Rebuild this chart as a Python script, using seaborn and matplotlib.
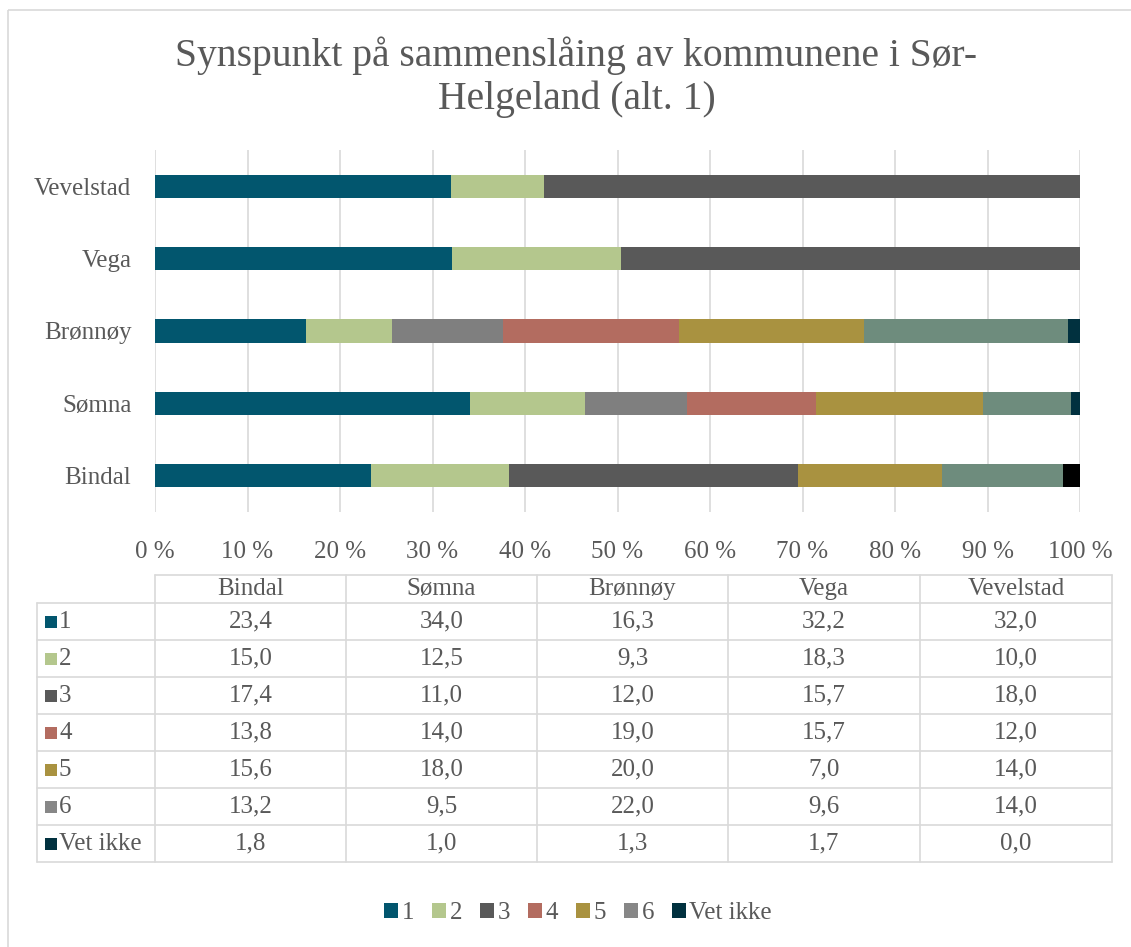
import numpy as np
import pandas as pd
import matplotlib
matplotlib.use("Agg")
import matplotlib.pyplot as plt
import seaborn as sns
from matplotlib.patches import Patch, Rectangle

# --- data -----------------------------------------------------------------
kommuner = ["Bindal", "Sømna", "Brønnøy", "Vega", "Vevelstad"]
svar = ["1", "2", "3", "4", "5", "6", "Vet ikke"]
svar_1 = [23.4, 34.0, 16.3, 32.2, 32.0]
svar_2 = [15.0, 12.5, 9.3, 18.3, 10.0]
svar_3 = [17.4, 11.0, 12.0, 15.7, 18.0]
svar_4 = [13.8, 14.0, 19.0, 15.7, 12.0]
svar_5 = [15.6, 18.0, 20.0, 7.0, 14.0]
svar_6 = [13.2, 9.5, 22.0, 9.6, 14.0]
vet_ikke = [1.8, 1.0, 1.3, 1.7, 0.0]
x_ticks = [0, 10, 20, 30, 40, 50, 60, 70, 80, 90, 100]
title_lines = ["Synspunkt på sammenslåing av kommunene i Sør-", "Helgeland (alt. 1)"]

series = [svar_1, svar_2, svar_3, svar_4, svar_5, svar_6, vet_ikke]

# --- styling --------------------------------------------------------------
TEAL, GREEN, DGRAY, RED, GOLD, GRAY, NAVY = (
    "#02566E", "#B4C78D", "#595959", "#B36C60", "#A99240", "#878787", "#01313F")
MGRAY, SAGE, BLACK = "#7F7F7F", "#6E8C7D", "#000000"
legend_colors = [TEAL, GREEN, DGRAY, RED, GOLD, GRAY, NAVY]
segment_colors = {
    "Bindal":    [TEAL, GREEN, DGRAY, DGRAY, GOLD, SAGE, BLACK],
    "Sømna":     [TEAL, GREEN, MGRAY, RED, GOLD, SAGE, NAVY],
    "Brønnøy":   [TEAL, GREEN, MGRAY, RED, GOLD, SAGE, NAVY],
    "Vega":      [TEAL, GREEN, DGRAY, DGRAY, DGRAY, DGRAY, DGRAY],
    "Vevelstad": [TEAL, GREEN, DGRAY, DGRAY, DGRAY, DGRAY, DGRAY],
}
TXT = "#595959"
LINE = "#D9D9D9"
FONT = ["Liberation Serif", "DejaVu Serif"]
FS = 18

sns.set_theme(style="white")
plt.rcParams["font.family"] = FONT
plt.rcParams["text.color"] = TXT

W, H = 1131, 947
fig = plt.figure(figsize=(W / 100, H / 100), dpi=100)

# --- stacked percentage bars ---------------------------------------------
vals = np.array(series)                      # (7 answers, 5 municipalities)
pct = vals / vals.sum(axis=0) * 100
cum = np.cumsum(pct, axis=0)
bar_order = kommuner[::-1]

ax = fig.add_axes([155 / W, 1 - 512 / H, 925 / W, 362 / H])
for k in range(len(svar) - 1, -1, -1):
    df = pd.DataFrame({"kommune": kommuner, "andel": cum[k]})
    pal = {kom: segment_colors[kom][k] for kom in kommuner}
    sns.barplot(data=df, x="andel", y="kommune", hue="kommune", order=bar_order,
                hue_order=bar_order, palette=pal, saturation=1, width=0.32,
                linewidth=0, legend=False, ax=ax)

ax.set_xlim(0, 100)
ax.set_ylim(len(kommuner) - 0.5, -0.5)
ax.set_xticks(x_ticks)
ax.set_xticklabels([f"{t} %" for t in x_ticks])
ax.set_xlabel("")
ax.set_ylabel("")
ax.xaxis.grid(True, color=LINE, linewidth=1.2)
ax.yaxis.grid(False)
ax.set_axisbelow(True)
for s in ax.spines.values():
    s.set_visible(False)
ax.tick_params(axis="x", length=0, pad=21, labelsize=FS, labelcolor=TXT)
ax.tick_params(axis="y", length=0, pad=17, labelsize=FS, labelcolor=TXT)
for lab in ax.get_xticklabels() + ax.get_yticklabels():
    lab.set_family(FONT)

# --- overlay in pixel space: frame, title, data table, legend -------------
ov = fig.add_axes([0, 0, 1, 1], facecolor="none")
ov.set_xlim(0, W)
ov.set_ylim(H, 0)
ov.axis("off")

ov.add_patch(Rectangle((8, 10), W + 20, H + 20, fill=False, edgecolor=LINE, lw=1.2))

ov.text(576, 66, title_lines[0], ha="center", va="baseline", fontsize=28.5, color=TXT)
ov.text(577, 109, title_lines[1], ha="center", va="baseline", fontsize=28.5, color=TXT)

col_edges = [155, 346, 537, 728, 920, 1112]
head_top, row_top, row_h = 575, 603, 37
n_rows = len(svar)
table_bottom = row_top + n_rows * row_h
lkw = dict(color=LINE, lw=1.2)

ov.plot([col_edges[0], col_edges[-1]], [head_top, head_top], **lkw)
for r in range(n_rows + 1):
    y = row_top + r * row_h
    ov.plot([37, col_edges[-1]], [y, y], **lkw)
ov.plot([37, 37], [row_top, table_bottom], **lkw)
for x in col_edges:
    ov.plot([x, x], [head_top, table_bottom], **lkw)

for j, kom in enumerate(kommuner):
    cx = (col_edges[j] + col_edges[j + 1]) / 2
    ov.text(cx, (head_top + row_top) / 2, kom, ha="center", va="center",
            fontsize=FS, color=TXT)
for i, name in enumerate(svar):
    cy = row_top + (i + 0.5) * row_h
    ov.add_patch(Rectangle((45, cy - 6), 12, 12, color=legend_colors[i], lw=0))
    ov.text(59, cy, name, ha="left", va="center", fontsize=FS, color=TXT)
    for j in range(len(kommuner)):
        cx = (col_edges[j] + col_edges[j + 1]) / 2
        txt = f"{series[i][j]:.1f}".replace(".", ",")
        ov.text(cx, cy, txt, ha="center", va="center", fontsize=FS, color=TXT)

handles = [Patch(facecolor=c, edgecolor="none", label=s) for s, c in zip(svar, legend_colors)]
leg = ov.legend(handles=handles, loc="center", bbox_to_anchor=(578 / W, 1 - 913 / H),
                bbox_transform=fig.transFigure, ncol=len(svar), frameon=False,
                fontsize=FS, handlelength=0.55, handleheight=0.55,
                handletextpad=0.15, columnspacing=0.72, labelcolor=TXT)

fig.savefig("out.png", dpi=100, facecolor="white")
